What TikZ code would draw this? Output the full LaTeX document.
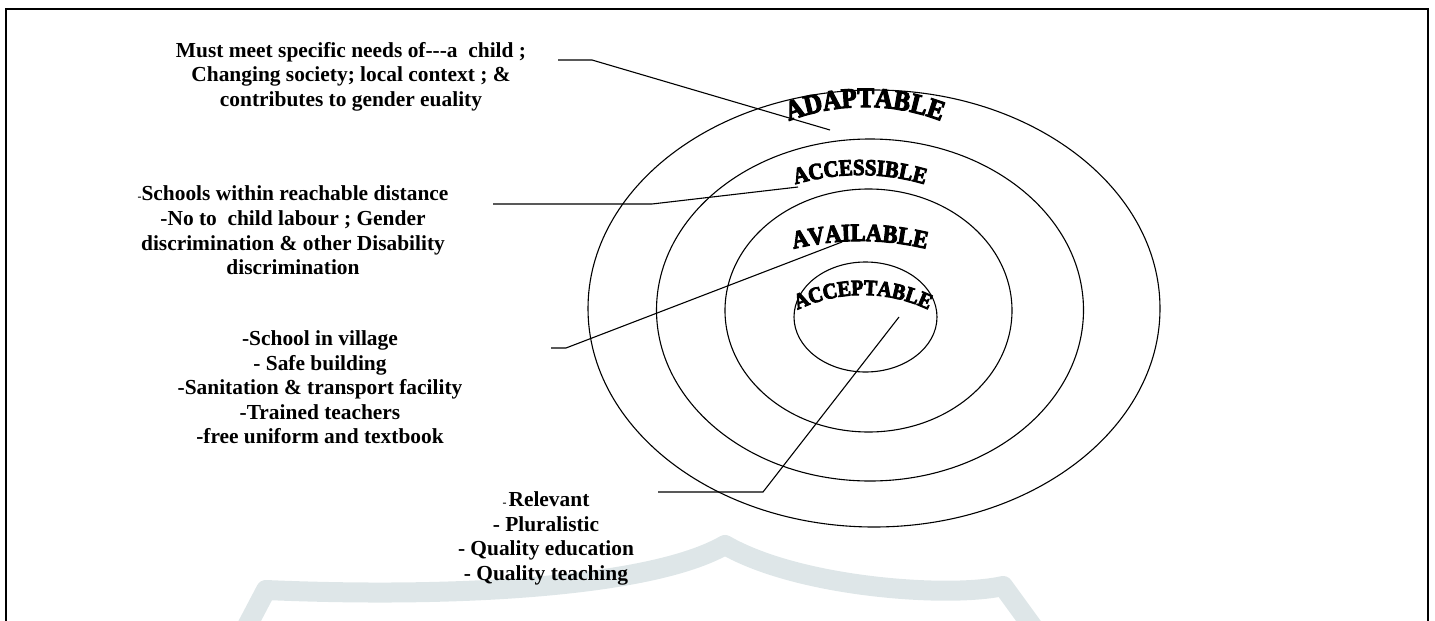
\documentclass[tikz,border=0pt]{standalone}
\usepackage{fontspec}
\setmainfont{Liberation Serif}
\newfontfamily\wafont[FakeBold=4,FakeStretch=0.9]{Liberation Serif Bold}
\usetikzlibrary{decorations.text}
\definecolor{wmcol}{RGB}{222,230,232}
\newcommand{\tinydash}{{\fontsize{12}{12}\selectfont -}}
\begin{document}
\begin{tikzpicture}[x=1pt,y=-1pt,
  ring/.style={draw=black,line width=1.1pt},
  link/.style={draw=black,line width=1.1pt},
  blk/.style={align=center,inner sep=0pt,font=\bfseries\fontsize{21.4}{24.6}\selectfont},
  frameline/.style={draw=black,line width=2.4pt},
  wm/.style={draw=wmcol,line width=20pt,line join=round},
  arctext/.style={decorate,decoration={text along path,text align=center,text={#1}}}]
\useasboundingbox (0,0) rectangle (1435,621);
% watermark
\draw[wm] (245,630) -- (266,590) .. controls (450,598) and (650,588) .. (725,545)
  .. controls (800,588) and (950,598) .. (1003,586) -- (1035,630);
% frame
\draw[frameline] (6,621) -- (6,9) -- (1428,9) -- (1428,621);
% rings
\draw[ring] (874,308.5) ellipse [x radius=286, y radius=218.5];
\draw[ring] (870,310) ellipse [x radius=213.5, y radius=171];
\draw[ring] (868.5,310.5) ellipse [x radius=143.5, y radius=121.5];
\draw[ring] (865.5,317) ellipse [x radius=71.5, y radius=55];
% curved labels
\path[arctext={|\wafont\fontsize{28}{28}\selectfont|ADAPTABLE}]
  (865,320) ++(-115:213) arc[start angle=-115, end angle=-65, radius=213];
\path[arctext={|\wafont\fontsize{23}{23}\selectfont|ACCESSIBLE}]
  (860,404) ++(-110:229) arc[start angle=-110, end angle=-70, radius=229];
\path[arctext={|\wafont\fontsize{25}{25}\selectfont|AVAILABLE}]
  (860,526) ++(-106:285) arc[start angle=-106, end angle=-74, radius=285];
\path[arctext={|\wafont\fontsize{22}{22}\selectfont|ACCEPTABLE}]
  (863,447) ++(-120:152) arc[start angle=-120, end angle=-60, radius=152];
% text blocks
\node[blk] (t1) at (351,76.5) {Must meet specific needs of-{}-{}-a~ child ;\\ Changing society; local context ; \&\\ contributes to gender euality};
\node[blk] (t2) at (293,230.5) {\tinydash Schools within reachable distance\\ -No to~ child labour ; Gender\\ discrimination \& other Disability\\ discrimination};
\node[blk] (t3) at (320,387.5) {-School in village\\ - Safe building\\ -Sanitation \& transport facility\\ -Trained teachers\\ -free uniform and textbook};
\node[blk] (t4) at (546,538.5) {\tinydash\kern2pt Relevant\\ - Pluralistic\\ - Quality education\\ - Quality teaching};
% connectors
\coordinate (c1a) at (558,60);  \coordinate (c1b) at (592,60);  \coordinate (c1c) at (830,130);
\coordinate (c2a) at (493,204); \coordinate (c2b) at (652,204); \coordinate (c2c) at (798,187);
\coordinate (c3a) at (551,348); \coordinate (c3b) at (566,348); \coordinate (c3c) at (842,242);
\coordinate (c4a) at (658,492); \coordinate (c4b) at (763,492); \coordinate (c4c) at (899,317);
\draw[link] (c1a) -- (c1b) -- (c1c);
\draw[link] (c2a) -- (c2b) -- (c2c);
\draw[link] (c3a) -- (c3b) -- (c3c);
\draw[link] (c4a) -- (c4b) -- (c4c);
\end{tikzpicture}
\end{document}
